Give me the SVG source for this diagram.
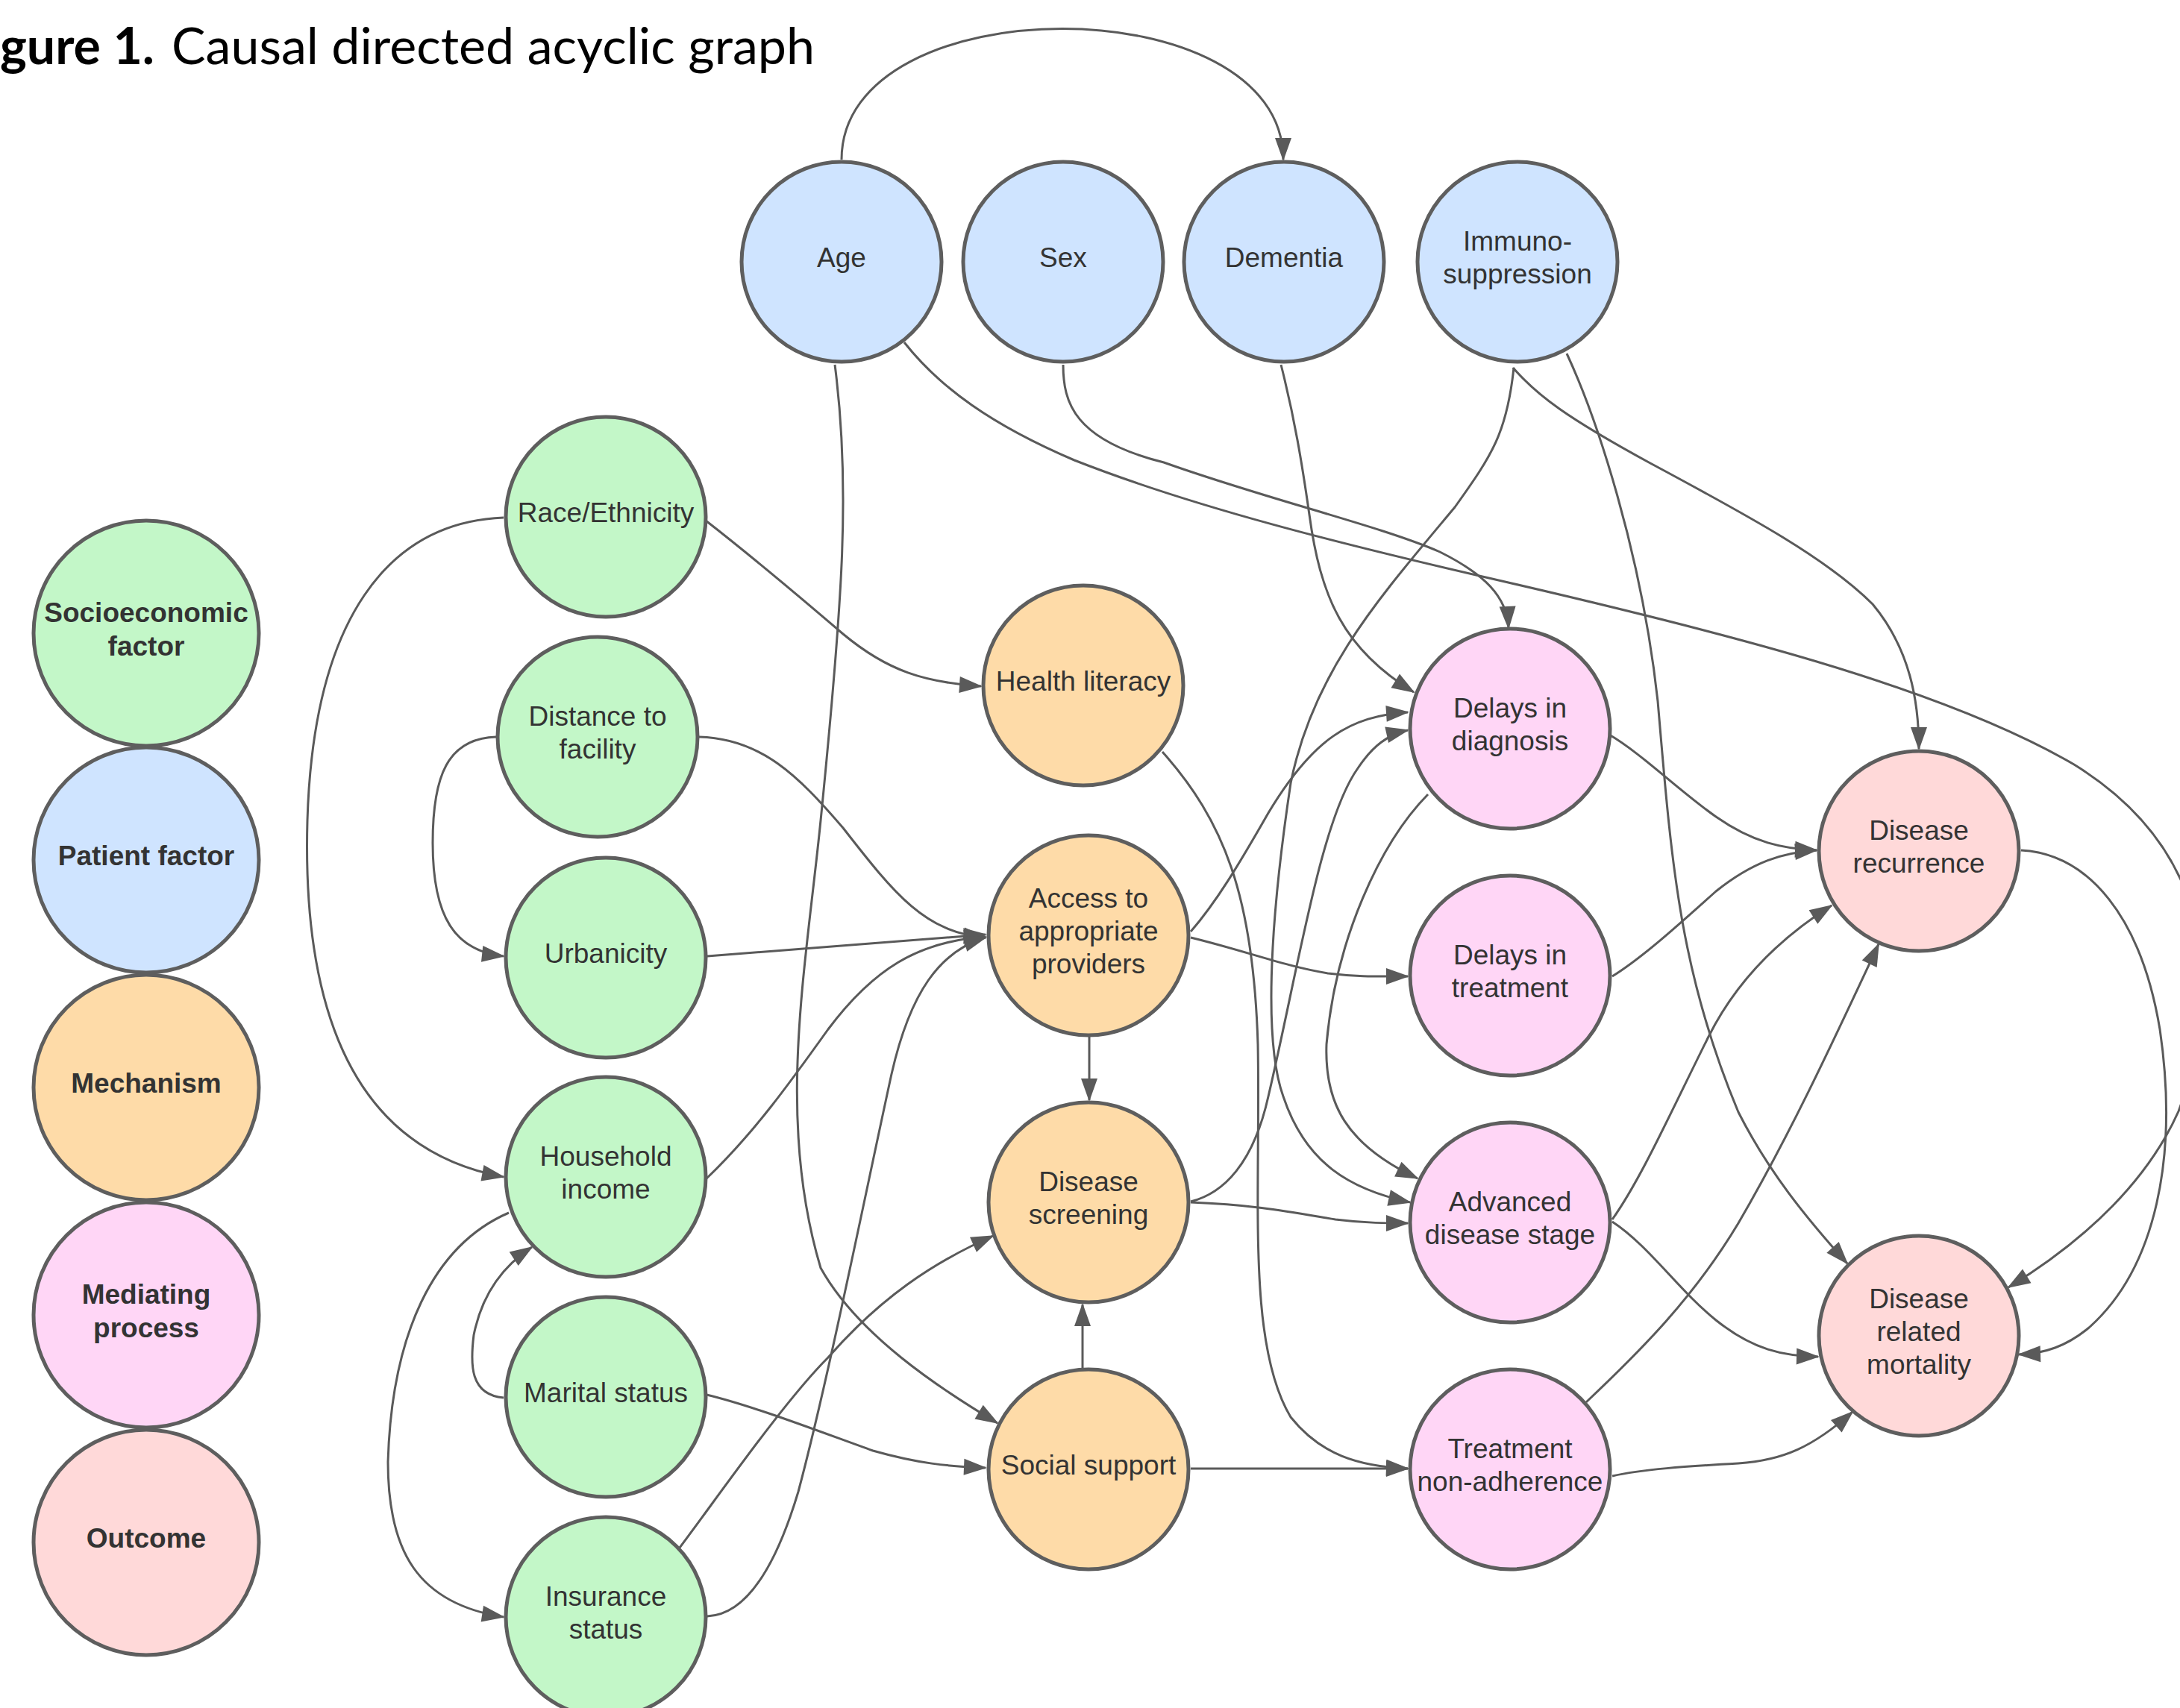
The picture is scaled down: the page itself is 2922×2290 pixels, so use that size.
<svg xmlns="http://www.w3.org/2000/svg" width="2922" height="2290" viewBox="0 0 2922 2290">
<style>
.n circle{stroke:#5e5e5e;stroke-width:5}
.n text{font-family:"Liberation Sans",Arial,sans-serif;font-size:37px;fill:#333333;text-anchor:middle}
.lg text{font-weight:bold}
.b circle{fill:#cfe4ff}
.g circle{fill:#c3f7c8}
.o circle{fill:#fedba8}
.p circle{fill:#ffd6f6}
.r circle{fill:#ffd9d9}
#edges path{fill:none;stroke:#5a5a5a;stroke-width:3;marker-end:url(#arr)}
.title{font-family:Lato,"Open Sans",sans-serif;font-size:68px;fill:#000}
</style>
<defs>
<marker id="arr" markerUnits="userSpaceOnUse" markerWidth="32" markerHeight="22" refX="29" refY="11" orient="auto" overflow="visible">
<path d="M0,0 L31,11 L0,22 z" fill="#5a5a5a"/>
</marker>
</defs>
<rect width="2922" height="2290" fill="#ffffff"/>
<text class="title" x="207" y="86" text-anchor="end" font-weight="bold">Figure 1.</text>
<text class="title" x="230" y="86" textLength="862" lengthAdjust="spacingAndGlyphs">Causal directed acyclic graph</text>

<g id="edges">
<path d="M1128,214 C1128,-20 1720,-20 1720,214"/>
<path d="M1119,489 C1140,650 1130,800 1100,1100 C1080,1300 1040,1500 1100,1700 C1150,1790 1260,1862 1337,1908"/>
<path d="M1212,459 C1260,520 1330,570 1440,617 C1600,680 1800,730 2000,776 C2300,845 2600,920 2780,1025 C2950,1130 2990,1300 2920,1490 C2880,1580 2800,1660 2692,1726"/>
<path d="M1425,489 C1425,540 1440,590 1560,620 C1700,670 1850,705 1930,740 C1990,770 2020,800 2022,842"/>
<path d="M1717,489 C1735,560 1745,620 1755,690 C1770,800 1800,870 1895,928"/>
<path d="M2029,493 C2020,580 2000,610 1950,680 C1850,800 1760,900 1730,1050 C1700,1250 1695,1400 1720,1470 C1750,1560 1810,1595 1890,1612"/>
<path d="M2028,493 C2060,530 2100,560 2212,621 C2350,695 2450,750 2510,810 C2560,870 2572,940 2572,1004"/>
<path d="M2100,474 C2140,560 2200,740 2222,940 C2240,1150 2250,1300 2330,1491 C2370,1570 2420,1632 2476,1694"/>
<path d="M1914,1065 C1850,1130 1790,1260 1778,1400 C1775,1480 1805,1535 1900,1580"/>
<path d="M1558,1008 C1640,1100 1680,1200 1686,1400 C1690,1600 1670,1800 1730,1900 C1770,1950 1820,1966 1887,1969"/>
<path d="M946,698 C1000,740 1060,790 1130,850 C1190,900 1240,915 1315,920"/>
<path d="M675,694 C520,700 420,830 412,1100 C405,1350 470,1540 675,1578"/>
<path d="M665,988 C600,990 580,1040 580,1130 C580,1230 610,1275 675,1282"/>
<path d="M937,988 C1020,990 1070,1040 1130,1110 C1200,1200 1240,1250 1321,1257"/>
<path d="M948,1282 L1321,1253"/>
<path d="M947,1580 C1010,1520 1060,1450 1110,1380 C1170,1300 1230,1262 1321,1256"/>
<path d="M948,2167 C1000,2165 1040,2100 1070,2000 C1110,1850 1160,1600 1195,1440 C1220,1330 1260,1275 1321,1257"/>
<path d="M911,2075 C960,2010 1050,1880 1110,1820 C1180,1740 1250,1693 1331,1657"/>
<path d="M682,1626 C580,1670 525,1790 520,1960 C520,2080 560,2150 675,2168"/>
<path d="M675,1874 C630,1870 630,1830 635,1790 C645,1740 670,1700 713,1672"/>
<path d="M947,1870 C1010,1885 1100,1920 1170,1945 C1230,1962 1270,1966 1321,1968"/>
<path d="M1460,1390 L1460,1475"/>
<path d="M1451,1834 L1451,1749"/>
<path d="M1596,1249 C1630,1210 1660,1160 1700,1090 C1760,990 1810,960 1887,955"/>
<path d="M1596,1257 C1670,1275 1720,1295 1780,1305 C1820,1310 1850,1309 1887,1309"/>
<path d="M1596,1611 C1640,1600 1680,1560 1700,1470 C1740,1300 1770,1100 1820,1030 C1840,1000 1860,985 1887,979"/>
<path d="M1596,1612 C1680,1615 1730,1625 1790,1635 C1830,1640 1860,1640 1887,1640"/>
<path d="M1596,1969 L1887,1969"/>
<path d="M2157,985 C2200,1010 2250,1060 2300,1095 C2350,1130 2390,1138 2435,1140"/>
<path d="M2161,1309 C2200,1285 2250,1240 2300,1195 C2350,1155 2390,1143 2435,1140"/>
<path d="M2161,1635 C2200,1580 2240,1490 2290,1390 C2330,1310 2390,1255 2455,1214"/>
<path d="M2161,1638 C2210,1670 2250,1730 2300,1770 C2350,1810 2390,1818 2437,1819"/>
<path d="M2126,1880 C2200,1810 2270,1740 2330,1640 C2400,1520 2460,1390 2518,1266"/>
<path d="M2161,1979 C2200,1970 2260,1966 2330,1962 C2390,1958 2430,1940 2483,1893"/>
<path d="M2709,1140 C2800,1145 2870,1230 2895,1380 C2920,1550 2890,1700 2800,1780 C2770,1805 2740,1815 2706,1816"/>
</g>

<g id="legend-socioeconomic" class="n g lg"><circle cx="196" cy="849" r="151"/><text x="196" y="834">Socioeconomic</text><text x="196" y="879">factor</text></g>
<g id="legend-patient" class="n b lg"><circle cx="196" cy="1153" r="151"/><text x="196" y="1160">Patient factor</text></g>
<g id="legend-mechanism" class="n o lg"><circle cx="196" cy="1458" r="151"/><text x="196" y="1465">Mechanism</text></g>
<g id="legend-mediating" class="n p lg"><circle cx="196" cy="1763" r="151"/><text x="196" y="1748">Mediating</text><text x="196" y="1793">process</text></g>
<g id="legend-outcome" class="n r lg"><circle cx="196" cy="2068" r="151"/><text x="196" y="2075">Outcome</text></g>

<g id="age" class="n b"><circle cx="1128" cy="351" r="134"/><text x="1128" y="358">Age</text></g>
<g id="sex" class="n b"><circle cx="1425" cy="351" r="134"/><text x="1425" y="358">Sex</text></g>
<g id="dementia" class="n b"><circle cx="1721" cy="351" r="134"/><text x="1721" y="358">Dementia</text></g>
<g id="immunosuppression" class="n b"><circle cx="2034" cy="351" r="134"/><text x="2034" y="336">Immuno-</text><text x="2034" y="380">suppression</text></g>

<g id="race" class="n g"><circle cx="812" cy="693" r="134"/><text x="812" y="700">Race/Ethnicity</text></g>
<g id="distance" class="n g"><circle cx="801" cy="988" r="134"/><text x="801" y="973">Distance to</text><text x="801" y="1017">facility</text></g>
<g id="urbanicity" class="n g"><circle cx="812" cy="1284" r="134"/><text x="812" y="1291">Urbanicity</text></g>
<g id="income" class="n g"><circle cx="812" cy="1578" r="134"/><text x="812" y="1563">Household</text><text x="812" y="1607">income</text></g>
<g id="marital" class="n g"><circle cx="812" cy="1873" r="134"/><text x="812" y="1880">Marital status</text></g>
<g id="insurance" class="n g"><circle cx="812" cy="2168" r="134"/><text x="812" y="2153">Insurance</text><text x="812" y="2197">status</text></g>

<g id="health-literacy" class="n o"><circle cx="1452" cy="919" r="134"/><text x="1452" y="926">Health literacy</text></g>
<g id="access" class="n o"><circle cx="1459" cy="1254" r="134"/><text x="1459" y="1217">Access to</text><text x="1459" y="1261">appropriate</text><text x="1459" y="1305">providers</text></g>
<g id="screening" class="n o"><circle cx="1459" cy="1612" r="134"/><text x="1459" y="1597">Disease</text><text x="1459" y="1641">screening</text></g>
<g id="social-support" class="n o"><circle cx="1459" cy="1970" r="134"/><text x="1459" y="1977">Social support</text></g>

<g id="delays-diagnosis" class="n p"><circle cx="2024" cy="977" r="134"/><text x="2024" y="962">Delays in</text><text x="2024" y="1006">diagnosis</text></g>
<g id="delays-treatment" class="n p"><circle cx="2024" cy="1308" r="134"/><text x="2024" y="1293">Delays in</text><text x="2024" y="1337">treatment</text></g>
<g id="advanced-stage" class="n p"><circle cx="2024" cy="1639" r="134"/><text x="2024" y="1624">Advanced</text><text x="2024" y="1668">disease stage</text></g>
<g id="non-adherence" class="n p"><circle cx="2024" cy="1970" r="134"/><text x="2024" y="1955">Treatment</text><text x="2024" y="1999">non-adherence</text></g>

<g id="recurrence" class="n r"><circle cx="2572" cy="1141" r="134"/><text x="2572" y="1126">Disease</text><text x="2572" y="1170">recurrence</text></g>
<g id="mortality" class="n r"><circle cx="2572" cy="1791" r="134"/><text x="2572" y="1754">Disease</text><text x="2572" y="1798">related</text><text x="2572" y="1842">mortality</text></g>
</svg>
